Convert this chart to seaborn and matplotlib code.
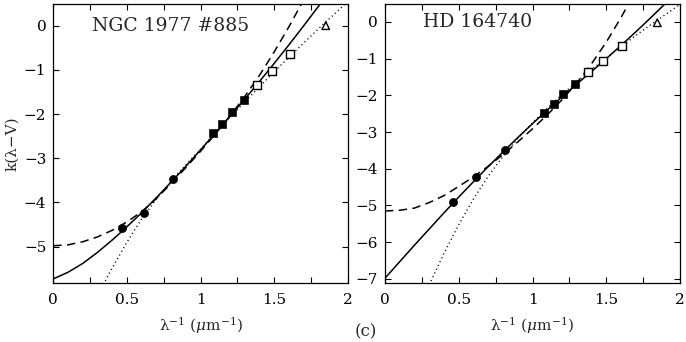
import numpy as np
import pandas as pd
import matplotlib
matplotlib.use("Agg")
import matplotlib.pyplot as plt
import seaborn as sns
from matplotlib.ticker import MultipleLocator, FuncFormatter

# ---------------- data ----------------
# Left panel: NGC 1977 #885
L_circ_x = [0.464, 0.618, 0.815]
L_circ_y = [-4.58, -4.24, -3.47]
L_fsq_x = [1.086, 1.143, 1.215, 1.295]
L_fsq_y = [-2.43, -2.22, -1.96, -1.68]
L_osq_x = [1.38, 1.483, 1.607]
L_osq_y = [-1.35, -1.02, -0.64]
L_tri_x = [1.849]
L_tri_y = [0.0]

L_solid_x = [0.0, 0.1, 0.2, 0.3, 0.4, 0.5, 0.6, 0.7, 0.8, 0.9, 1.0, 1.1, 1.2, 1.3, 1.4, 1.5, 1.6, 1.7, 1.8, 1.9]
L_solid_y = [-5.73, -5.58, -5.38, -5.13, -4.85, -4.55, -4.23, -3.89, -3.54, -3.18, -2.81, -2.43, -2.05, -1.66, -1.26, -0.85, -0.43, 0.00, 0.44, 0.89]
L_dash_x = [0.0, 0.1, 0.2, 0.3, 0.4, 0.5, 0.6, 0.7, 0.8, 0.9, 1.0, 1.1, 1.2, 1.3, 1.4, 1.5, 1.6, 1.7]
L_dash_y = [-4.98, -4.96, -4.89, -4.78, -4.63, -4.44, -4.21, -3.91, -3.57, -3.21, -2.84, -2.45, -2.04, -1.60, -1.12, -0.59, -0.02, 0.59]
L_dot_x = [0.34, 0.4, 0.5, 0.6, 0.7, 0.8, 0.9, 1.0, 1.1, 1.2, 1.3, 1.4, 1.5, 1.6, 1.7, 1.8, 1.9, 2.0]
L_dot_y = [-5.86, -5.48, -4.90, -4.37, -3.92, -3.52, -3.15, -2.79, -2.43, -2.07, -1.72, -1.38, -1.04, -0.71, -0.39, -0.07, 0.24, 0.55]

# Right panel: HD 164740
R_circ_x = [0.463, 0.617, 0.811]
R_circ_y = [-4.91, -4.23, -3.49]
R_fsq_x = [1.08, 1.143, 1.21, 1.288]
R_fsq_y = [-2.49, -2.23, -1.96, -1.69]
R_osq_x = [1.378, 1.48, 1.61]
R_osq_y = [-1.37, -1.05, -0.65]
R_tri_x = [1.846]
R_tri_y = [-0.02]

R_solid_x = [0.0, 0.1, 0.2, 0.3, 0.4, 0.5, 0.6, 0.7, 0.8, 0.9, 1.0, 1.1, 1.2, 1.3, 1.4, 1.5, 1.6, 1.7, 1.8, 1.9, 2.0]
R_solid_y = [-6.98, -6.53, -6.08, -5.64, -5.20, -4.77, -4.35, -3.94, -3.54, -3.15, -2.77, -2.40, -2.04, -1.69, -1.35, -1.00, -0.64, -0.27, 0.11, 0.50, 0.90]
R_dash_x = [0.0, 0.1, 0.2, 0.3, 0.4, 0.5, 0.6, 0.7, 0.8, 0.9, 1.0, 1.1, 1.2, 1.3, 1.4, 1.5, 1.6, 1.7]
R_dash_y = [-5.15, -5.13, -5.07, -4.92, -4.73, -4.48, -4.22, -3.93, -3.61, -3.27, -2.91, -2.53, -2.12, -1.66, -1.14, -0.55, 0.12, 0.85]
R_dot_x = [0.30, 0.4, 0.5, 0.6, 0.7, 0.8, 0.9, 1.0, 1.1, 1.2, 1.3, 1.4, 1.5, 1.6, 1.7, 1.8, 1.9, 2.0]
R_dot_y = [-7.16, -6.30, -5.52, -4.82, -4.20, -3.66, -3.18, -2.75, -2.35, -1.98, -1.63, -1.30, -0.98, -0.67, -0.37, -0.08, 0.20, 0.48]

x_ticks = [0, 0.5, 1, 1.5, 2]
L_yticks = [0, -1, -2, -3, -4, -5]
R_yticks = [0, -1, -2, -3, -4, -5, -6, -7]
L_title = "NGC 1977 #885"
R_title = "HD 164740"

# ---------------- style ----------------
sns.set_theme(style="ticks")
plt.rcParams["font.family"] = ["DejaVu Serif", "DejaVu Sans"]
plt.rcParams["mathtext.fontset"] = "dejavuserif"
plt.rcParams["axes.linewidth"] = 0.9

W, H = 686, 342
fig = plt.figure(figsize=(W / 100, H / 100), dpi=100)


def fmt(v, pos):
    s = f"{v:g}"
    return s.replace("-", "\u2212")


def panel(rect, sx, sy, dx, dy, ox, oy, cx, cy, fx, fy, qx, qy, tx, ty, ylim, yticks, title):
    ax = fig.add_axes(rect)
    sns.lineplot(x=sx, y=sy, ax=ax, color="black", lw=1.1, sort=False, estimator=None)
    sns.lineplot(x=dx, y=dy, ax=ax, color="black", lw=1.1, sort=False, estimator=None,
                 linestyle=(0, (5.5, 3.5)))
    sns.lineplot(x=ox, y=oy, ax=ax, color="black", lw=1.0, sort=False, estimator=None,
                 linestyle=(0, (0.8, 2.2)))
    sns.scatterplot(x=cx, y=cy, ax=ax, color="black", marker="o", s=34, edgecolor="black", zorder=5)
    sns.scatterplot(x=fx, y=fy, ax=ax, color="black", marker="s", s=32, edgecolor="black", zorder=5)
    sns.scatterplot(x=qx, y=qy, ax=ax, marker="s", s=30, facecolor="white",
                    edgecolor="black", linewidth=1.0, zorder=5)
    sns.scatterplot(x=tx, y=ty, ax=ax, marker="^", s=30, facecolor="none",
                    edgecolor="black", linewidth=1.0, zorder=5)
    ax.set_xlim(0, 2)
    ax.set_ylim(*ylim)
    ax.set_xticks(x_ticks)
    ax.xaxis.set_minor_locator(MultipleLocator(0.25))
    ax.set_yticks(yticks)
    ax.xaxis.set_major_formatter(FuncFormatter(fmt))
    ax.yaxis.set_major_formatter(FuncFormatter(fmt))
    ax.tick_params(which="both", direction="in", top=True, right=True,
                   length=4.5, width=0.8, labelsize=11, colors="black")
    ax.tick_params(axis="x", pad=7)
    ax.tick_params(axis="y", pad=5)
    ax.set_xlabel("")
    ax.set_ylabel("")
    ax.text(0.26, 0.0, title, fontsize=13.5, va="center", ha="left")
    for sp in ax.spines.values():
        sp.set_color("black")
    return ax


top_px, bot_px = 4, 283.3
ax1 = panel([53.3 / W, 1 - bot_px / H, (348 - 53.3) / W, (bot_px - top_px) / H],
            L_solid_x, L_solid_y, L_dash_x, L_dash_y, L_dot_x, L_dot_y,
            L_circ_x, L_circ_y, L_fsq_x, L_fsq_y, L_osq_x, L_osq_y, L_tri_x, L_tri_y,
            (-5.83, 0.49), L_yticks, L_title)
ax2 = panel([385 / W, 1 - bot_px / H, (680 - 385) / W, (bot_px - top_px) / H],
            R_solid_x, R_solid_y, R_dash_x, R_dash_y, R_dot_x, R_dot_y,
            R_circ_x, R_circ_y, R_fsq_x, R_fsq_y, R_osq_x, R_osq_y, R_tri_x, R_tri_y,
            (-7.12, 0.49), R_yticks, R_title)

xlabel = "\u03bb$^{-1}$ ($\\mu$m$^{-1}$)"
fig.text((53.3 + 348) / 2 / W, 1 - 326 / H, xlabel, ha="center", va="center", fontsize=11)
fig.text((385 + 680) / 2 / W, 1 - 326 / H, xlabel, ha="center", va="center", fontsize=11)
fig.text(12 / W, 1 - 144 / H, "k(\u03bb\u2212V)", rotation=90, ha="center", va="center", fontsize=11)
fig.text(366 / W, 1 - 332 / H, "(c)", ha="center", va="center", fontsize=12)

fig.savefig("out.png", dpi=100)
